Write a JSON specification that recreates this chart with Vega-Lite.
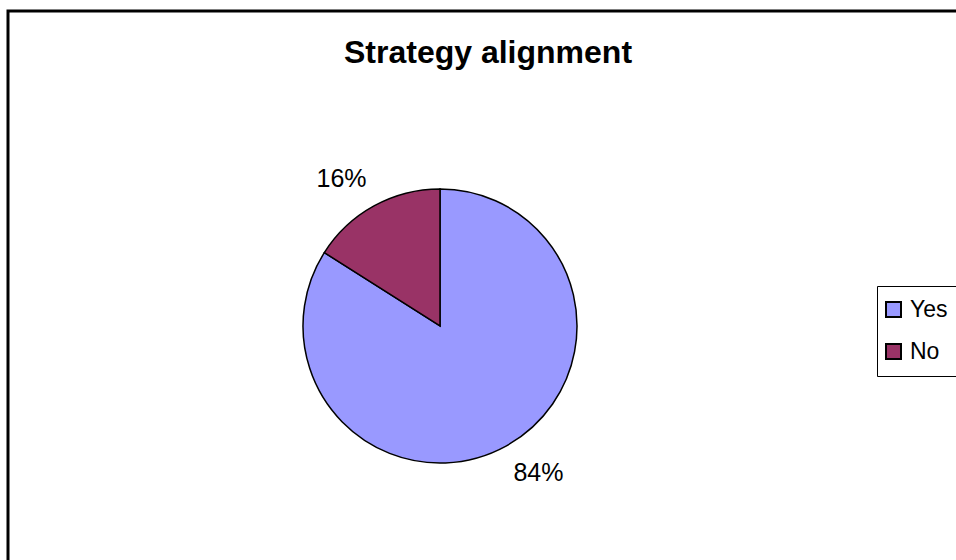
{
  "$schema": "https://vega.github.io/schema/vega-lite/v6.json",
  "width": 960,
  "height": 630,
  "autosize": {"type": "none"},
  "padding": {"left": 8, "top": 11, "right": 0, "bottom": 0},
  "background": "white",
  "view": {"stroke": "black", "strokeWidth": 3, "fill": "white"},
  "config": {
    "view": {"stroke": "black", "strokeWidth": 3},
    "font": "Liberation Sans"
  },
  "title": {
    "text": "Strategy alignment",
    "fontSize": 32,
    "fontWeight": "bold",
    "font": "Liberation Sans",
    "anchor": "middle",
    "baseline": "alphabetic",
    "offset": -84,
    "color": "black"
  },
  "data": {
    "values": [
      {"answer": "Yes", "share": 0.84},
      {"answer": "No", "share": 0.16}
    ]
  },
  "encoding": {
    "theta": {"field": "share", "type": "quantitative", "stack": true},
    "order": {"field": "share", "sort": "descending"}
  },
  "layer": [
    {
      "mark": {"type": "arc", "outerRadius": 137, "stroke": "black", "strokeWidth": 1.5, "xOffset": -48},
      "encoding": {
        "color": {
          "field": "answer",
          "type": "nominal",
          "sort": ["Yes", "No"],
          "scale": {"domain": ["Yes", "No"], "range": ["#9999FF", "#993366"]},
          "legend": {
            "title": null,
            "orient": "none",
            "legendX": 869,
            "legendY": 275,
            "strokeColor": "black",
            "padding": 12,
            "symbolOffset": -7,
            "symbolType": "square",
            "symbolSize": 225,
            "symbolStrokeColor": "black",
            "symbolStrokeWidth": 2,
            "symbolOpacity": 1,
            "labelFontSize": 23,
            "labelFont": "Liberation Sans",
            "labelColor": "black",
            "rowPadding": 18,
            "labelOffset": 5
          }
        }
      }
    },
    {
      "mark": {"type": "text", "radius": 177, "thetaOffset": -0.087, "xOffset": -48, "fontSize": 25, "font": "Liberation Sans", "color": "black"},
      "encoding": {
        "text": {"field": "share", "type": "quantitative", "format": ".0%"}
      }
    }
  ]
}
